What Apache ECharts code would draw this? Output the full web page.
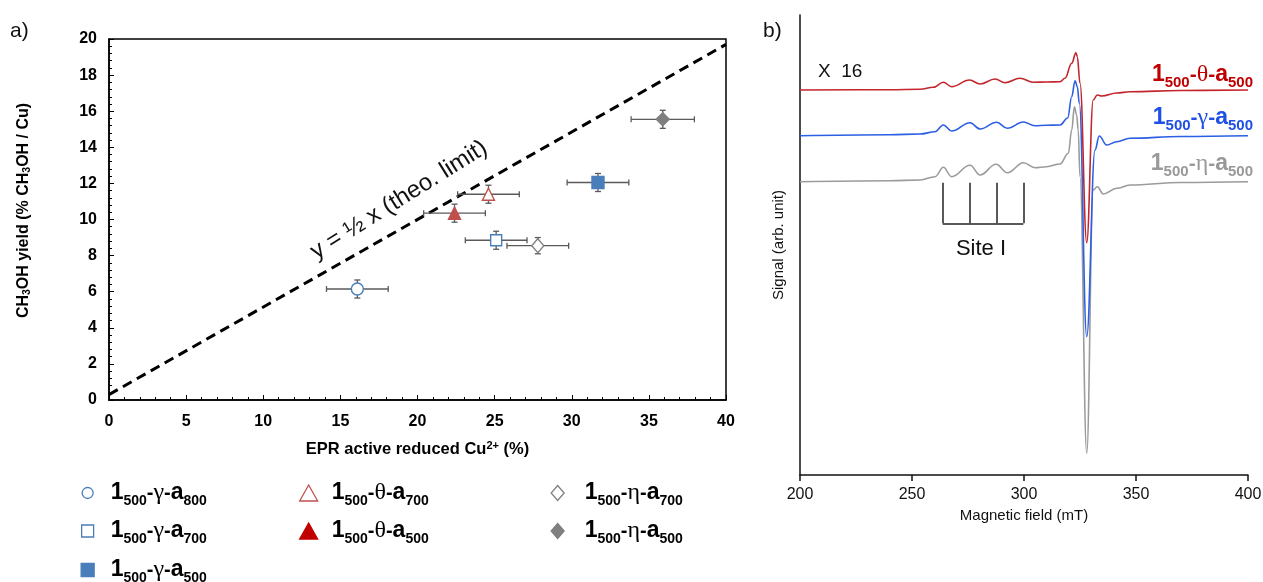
<!DOCTYPE html>
<html>
<head>
<meta charset="utf-8">
<title>EPR active Cu vs CH3OH yield</title>
<script src="https://cdn.jsdelivr.net/npm/echarts@6/dist/echarts.min.js"></script>
<style>
  html, body { margin: 0; padding: 0; background: #fff; }
  #main { width: 1263px; height: 582px; }
</style>
</head>
<body>
<div id="main"></div>
<script>
// ---- panel a: CH3OH yield vs EPR active reduced Cu2+ ----
var phases = ['γ', 'γ', 'γ', 'θ', 'θ', 'η', 'η'];
var anneal = ['800', '700', '500', '700', '500', '700', '500'];
var eprCu = [16.1, 25.1, 31.7, 24.6, 22.4, 27.8, 35.9];
var eprErr = [2.0, 2.0, 2.0, 2.0, 2.0, 2.0, 2.05];
var meohYield = [6.15, 8.85, 12.05, 11.4, 10.35, 8.55, 15.55];
var yieldErr = [0.5, 0.5, 0.5, 0.5, 0.5, 0.45, 0.5];
var limitX = [0, 40];
var limitY = [0.3, 19.7];

// ---- panel b: EPR spectra (x16), arb. units ----
var thetaField = [200, 240, 253.6, 259.5, 264, 267.7, 275.7, 280.4, 287.1, 291.5, 298.2, 304.2, 310, 316.1, 318.3, 321.3, 323.2, 323.8, 325, 328, 330.9, 332.7, 334.7, 341.4, 347.3, 370, 400];
var thetaSignal = [385, 385.3, 385.7, 387.7, 392.7, 388.3, 395, 391, 396, 392.3, 396.7, 392.7, 393, 393.3, 396.7, 411.7, 422.3, 418.3, 391.7, 232.3, 375, 380, 379, 382, 383.3, 384.5, 385];
var gammaField = [200, 240, 253.6, 260.3, 264, 267.7, 275.9, 280.4, 287.8, 292.6, 299.7, 304.9, 310, 316.1, 319.5, 321.3, 322.8, 323.8, 324.7, 328, 331.7, 333.6, 336.9, 341.4, 347.3, 370, 400];
var gammaSignal = [339.3, 340.3, 341, 343.3, 350, 344, 352.3, 346, 352.7, 346.7, 353, 349.3, 349.8, 350, 357, 378.3, 394.3, 388.3, 371.7, 138.3, 325, 339, 330, 333.3, 336.7, 338.5, 339.3];
var etaField = [200, 240, 253.6, 260.3, 264, 267.7, 275.9, 280.4, 287.5, 292.6, 299.7, 304.9, 310.1, 316.1, 319.8, 321.3, 322.5, 323.5, 324.2, 325, 328, 330.9, 332.7, 335.4, 341.4, 347.3, 370, 400];
var etaSignal = [293.3, 294.3, 295, 298.3, 307.7, 298.3, 309.7, 300, 310.7, 302.3, 312.3, 307.3, 308.3, 311, 321.7, 345, 368.3, 360, 345, 298.3, 21.7, 285, 288.3, 281, 286.7, 290, 292.5, 293.3];
var siteILines = [263.7, 275.9, 287.8, 299.7];
var siteITop = 292.3;
var siteIBottom = 251.7;

// marker looks, same order as the samples
var markers = [
    { symbol: 'circle', size: 12, fill: '#fff', stroke: '#4a7ebb' },
    { symbol: 'rect', size: 11, fill: '#fff', stroke: '#4a7ebb' },
    { symbol: 'rect', size: 12, fill: '#4a7ebb', stroke: '#4a7ebb' },
    { symbol: 'triangle', size: 12, fill: '#fff', stroke: '#c0504d' },
    { symbol: 'triangle', size: 12, fill: '#c0504d', stroke: '#c0504d' },
    { symbol: 'diamond', size: [12, 14], fill: '#fff', stroke: '#808080' },
    { symbol: 'diamond', size: 13, fill: '#7f7f7f', stroke: '#7f7f7f' }
];
// legend boxes: left, top, icon w/h, spacer before text, icon fill
var legendPos = [
    { left: 81.5, top: 481, w: 11, h: 11, pad: 12.5, fill: '#fff', stroke: '#4a7ebb' },
    { left: 81, top: 519, w: 12, h: 12, pad: 12, fill: '#fff', stroke: '#4a7ebb' },
    { left: 80.5, top: 558, w: 13, h: 13, pad: 11.5, fill: '#4a7ebb', stroke: '#4a7ebb' },
    { left: 299, top: 481, w: 18, h: 16, pad: 9, fill: '#fff', stroke: '#c0504d' },
    { left: 299, top: 519, w: 18, h: 16, pad: 9, fill: '#c00000', stroke: '#c00000' },
    { left: 550.5, top: 481, w: 13, h: 15, pad: 15.5, fill: '#fff', stroke: '#808080' },
    { left: 550.5, top: 519, w: 13, h: 15, pad: 15.5, fill: '#7f7f7f', stroke: '#7f7f7f' }
];

function sampleName(i) {
    return '1_500-' + phases[i] + '-a_' + anneal[i];
}
function sampleRich(ph, an) {
    return '{n|1}{s|500}{h|-}{g|' + ph + '}{h|-}{n|a}{s|' + an + '}';
}
function labelRich(big, sub, greek, hy) {
    return {
        n: { fontSize: big, fontWeight: 'bold', lineHeight: 30 },
        s: { fontSize: sub, fontWeight: 'bold', lineHeight: 15, verticalAlign: 'bottom' },
        g: { fontSize: greek, fontFamily: 'Liberation Serif', lineHeight: 30 },
        h: { fontSize: hy, fontWeight: 'bold', lineHeight: 30 }
    };
}

var chartDom = document.getElementById('main');
var myChart = echarts.init(chartDom, null, { renderer: 'canvas' });

function renderErrorBar(params, api) {
    var x = api.value(0), y = api.value(1), ex = api.value(2), ey = api.value(3);
    var l = api.coord([x - ex, y]), r = api.coord([x + ex, y]);
    var t = api.coord([x, y + ey]), b = api.coord([x, y - ey]);
    var cap = 3;
    var st = { stroke: '#5a5a5a', lineWidth: 1.3 };
    return {
        type: 'group',
        children: [
            { type: 'line', shape: { x1: l[0], y1: l[1], x2: r[0], y2: r[1] }, style: st },
            { type: 'line', shape: { x1: t[0], y1: t[1], x2: b[0], y2: b[1] }, style: st },
            { type: 'line', shape: { x1: l[0], y1: l[1] - cap, x2: l[0], y2: l[1] + cap }, style: st },
            { type: 'line', shape: { x1: r[0], y1: r[1] - cap, x2: r[0], y2: r[1] + cap }, style: st },
            { type: 'line', shape: { x1: t[0] - cap, y1: t[1], x2: t[0] + cap, y2: t[1] }, style: st },
            { type: 'line', shape: { x1: b[0] - cap, y1: b[1], x2: b[0] + cap, y2: b[1] }, style: st }
        ]
    };
}

var series = [];
// error bars (under the markers)
series.push({
    type: 'custom',
    xAxisIndex: 0,
    yAxisIndex: 0,
    renderItem: renderErrorBar,
    encode: { x: 0, y: 1 },
    data: eprCu.map(function (v, i) { return [v, meohYield[i], eprErr[i], yieldErr[i]]; }),
    z: 2,
    silent: true
});
// theoretical limit line
series.push({
    type: 'line',
    xAxisIndex: 0,
    yAxisIndex: 0,
    data: limitX.map(function (v, i) { return [v, limitY[i]]; }),
    symbol: 'none',
    lineStyle: { color: '#000', width: 3, type: [10, 6] },
    z: 1,
    silent: true
});
// one scatter series per sample
eprCu.forEach(function (v, i) {
    var m = markers[i];
    series.push({
        name: sampleName(i),
        type: 'scatter',
        xAxisIndex: 0,
        yAxisIndex: 0,
        data: [[v, meohYield[i]]],
        symbol: m.symbol,
        symbolSize: m.size,
        itemStyle: { color: m.fill, borderColor: m.stroke, borderWidth: 1.4, opacity: 1 },
        z: 3
    });
});
// spectra, panel b
var spectra = [
    { f: etaField, s: etaSignal, c: '#9b9b9b' },
    { f: gammaField, s: gammaSignal, c: '#2d5fe3' },
    { f: thetaField, s: thetaSignal, c: '#c2262c' }
];
spectra.forEach(function (sp) {
    series.push({
        type: 'line',
        xAxisIndex: 1,
        yAxisIndex: 1,
        data: sp.f.map(function (f, i) { return [f, sp.s[i]]; }),
        symbol: 'none',
        smooth: 0.4,
        smoothMonotone: 'x',
        lineStyle: { color: sp.c, width: 1.6 },
        silent: true
    });
});
// Site I bracket
var siteMarks = siteILines.map(function (f) {
    return [{ coord: [f, siteITop] }, { coord: [f, siteIBottom] }];
});
siteMarks.push([{ coord: [siteILines[0], siteIBottom] }, { coord: [siteILines[siteILines.length - 1], siteIBottom] }]);
series.push({
    type: 'line',
    xAxisIndex: 1,
    yAxisIndex: 1,
    data: [],
    markLine: {
        silent: true,
        symbol: 'none',
        label: { show: false },
        lineStyle: { color: '#222', width: 1.5, type: 'solid' },
        emphasis: { disabled: true },
        data: siteMarks
    }
});

var legends = legendPos.map(function (p, i) {
    var rich = labelRich(23, 14, 24, 20);
    rich.p = { width: p.pad };
    return {
        data: [{
            name: sampleName(i),
            icon: markers[i].symbol,
            itemStyle: { color: p.fill, borderColor: p.stroke, borderWidth: 1.3 }
        }],
        left: p.left,
        top: p.top,
        padding: 0,
        itemWidth: p.w,
        itemHeight: p.h,
        selectedMode: false,
        formatter: function () { return '{p| }' + sampleRich(phases[i], anneal[i]); },
        textStyle: { color: '#000', fontFamily: 'Liberation Sans', rich: rich }
    };
});

function curveLabel(i, y, color) {
    return {
        type: 'text',
        x: 1253,
        y: y,
        style: {
            text: sampleRich(phases[i], anneal[i]),
            rich: labelRich(23, 15, 24, 21),
            fill: color,
            fontFamily: 'Liberation Sans',
            align: 'right', verticalAlign: 'middle',
            textAlign: 'right', textVerticalAlign: 'middle'
        }
    };
}
function plainText(str, x, y, size, align, rot) {
    return {
        type: 'text',
        x: x,
        y: y,
        rotation: rot || 0,
        style: {
            text: str,
            fill: '#111',
            fontSize: size,
            fontFamily: 'Liberation Sans',
            align: align, verticalAlign: 'middle',
            textAlign: align, textVerticalAlign: 'middle'
        }
    };
}

var option = {
    animation: false,
    backgroundColor: '#fff',
    textStyle: { fontFamily: 'Liberation Sans' },
    grid: [
        { left: 109, top: 39, width: 617, height: 361, show: true, borderColor: '#000', borderWidth: 1.5, backgroundColor: 'transparent', outerBoundsMode: 'none' },
        { left: 800, top: 15, width: 448, height: 460, outerBoundsMode: 'none' }
    ],
    xAxis: [
        {
            gridIndex: 0, type: 'value', min: 0, max: 40, interval: 5,
            name: '{b|EPR active reduced Cu}{sp|2+}{b| (%)}',
            nameLocation: 'middle', nameGap: 40,
            nameTextStyle: {
                rich: {
                    b: { fontSize: 16.5, fontWeight: 'bold', color: '#000', lineHeight: 19 },
                    sp: { fontSize: 11, fontWeight: 'bold', color: '#000', lineHeight: 11, verticalAlign: 'top' }
                }
            },
            axisLine: { show: true, lineStyle: { color: '#000', width: 1.5 } },
            axisTick: { show: true, inside: true, length: 5, lineStyle: { color: '#000', width: 1 } },
            minorTick: { show: true, splitNumber: 5, length: 3, lineStyle: { color: '#000', width: 1 } },
            splitLine: { show: false },
            axisLabel: { color: '#000', fontWeight: 'bold', fontSize: 16, margin: 14 }
        },
        {
            gridIndex: 1, type: 'value', min: 200, max: 400, interval: 50,
            name: 'Magnetic field (mT)',
            nameLocation: 'middle', nameGap: 32,
            nameTextStyle: { color: '#111', fontSize: 15 },
            axisLine: { show: true, lineStyle: { color: '#111', width: 1.5 } },
            axisTick: { show: true, inside: false, length: 6, lineStyle: { color: '#111', width: 1.5 } },
            splitLine: { show: false },
            axisLabel: { color: '#111', fontSize: 16, margin: 12 }
        }
    ],
    yAxis: [
        {
            gridIndex: 0, type: 'value', min: 0, max: 20, interval: 2,
            name: '{b|CH}{sb|3}{b|OH yield (% CH}{sb|3}{b|OH / Cu)}',
            nameLocation: 'middle', nameGap: 76,
            nameTextStyle: {
                padding: [0, 0, 0, 18],
                rich: {
                    b: { fontSize: 16, fontWeight: 'bold', color: '#000', lineHeight: 19 },
                    sb: { fontSize: 10.5, fontWeight: 'bold', color: '#000', lineHeight: 10, verticalAlign: 'bottom' }
                }
            },
            axisLine: { show: true, lineStyle: { color: '#000', width: 1.5 } },
            axisTick: { show: true, inside: true, length: 5, lineStyle: { color: '#000', width: 1 } },
            minorTick: { show: true, splitNumber: 5, length: 3, lineStyle: { color: '#000', width: 1 } },
            splitLine: { show: false },
            axisLabel: { color: '#000', fontWeight: 'bold', fontSize: 16, margin: 12 }
        },
        {
            gridIndex: 1, type: 'value', min: 0, max: 460,
            name: 'Signal (arb. unit)',
            nameLocation: 'middle', nameGap: 14,
            nameTextStyle: { color: '#111', fontSize: 15 },
            axisLine: { show: true, lineStyle: { color: '#111', width: 1.5 } },
            axisTick: { show: false },
            axisLabel: { show: false },
            splitLine: { show: false }
        }
    ],
    legend: legends,
    graphic: [
        plainText('a)', 10, 31, 21, 'left'),
        plainText('b)', 763, 31, 21, 'left'),
        plainText('y = ½ x (theo. limit)', 399, 200, 24, 'center', 32 * Math.PI / 180),
        plainText('X  16', 818, 72, 19, 'left'),
        plainText('Site I', 981, 249, 22, 'center'),
        curveLabel(4, 75, '#c00000'),
        curveLabel(2, 118, '#1f50e6'),
        curveLabel(6, 164, '#999999')
    ],
    series: series
};

option && myChart.setOption(option);
</script>
</body>
</html>
